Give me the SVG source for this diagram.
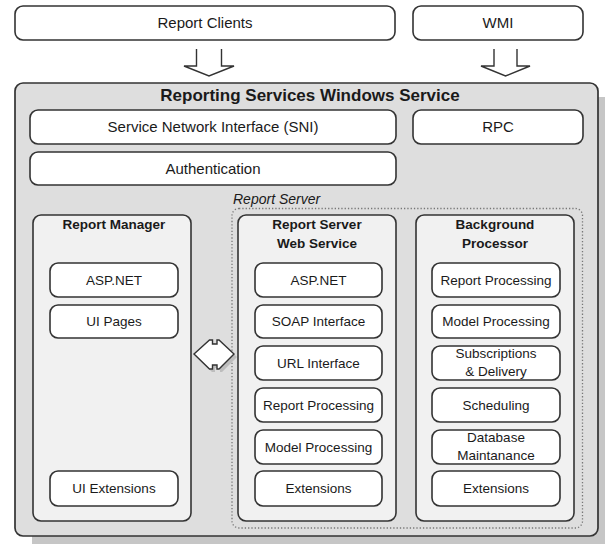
<svg xmlns="http://www.w3.org/2000/svg" width="605" height="544" viewBox="0 0 605 544">
<style>
  text { font-family: "Liberation Sans", Arial, sans-serif; fill: #1a1a1a; text-anchor: middle; }
  .t15 { font-size: 15px; }
  .t13 { font-size: 13.5px; }
  .b { font-weight: bold; }
  .box { fill: #ffffff; stroke: #333333; stroke-width: 1.6; }
  .panel { fill: #f1f1f1; stroke: #333333; stroke-width: 1.6; }
  .main { fill: #dedede; stroke: #333333; stroke-width: 1.7; }
  .shadow { fill: #c6c6c6; }
  .dotted { fill: none; stroke: #777777; stroke-width: 1.3; stroke-dasharray: 1.3 2; }
  .arrow { fill: #ffffff; stroke: #333333; stroke-width: 1.4; stroke-linejoin: miter; }
  .open { fill: none; stroke: #333333; stroke-width: 1.4; }
</style>

<g id="report-clients">
  <rect class="box" x="15" y="6" width="380" height="34" rx="8"/>
  <text class="t15" x="205" y="27.5">Report Clients</text>
</g>
<g id="wmi">
  <rect class="box" x="413" y="6" width="170" height="34" rx="8"/>
  <text class="t15" x="498" y="27.5">WMI</text>
</g>

<g id="rs-windows-service">
  <rect class="shadow" x="32" y="97" width="600" height="460" rx="8"/>
  <rect class="main" x="15" y="83" width="583" height="453" rx="8"/>
  <text class="b" style="font-size:17px" x="310" y="101">Reporting Services Windows Service</text>
</g>

<g id="sni">
  <rect class="box" x="30" y="110" width="366" height="34" rx="8"/>
  <text class="t15" x="213" y="132">Service Network Interface (SNI)</text>
</g>
<g id="rpc">
  <rect class="box" x="413" y="110" width="170" height="34" rx="8"/>
  <text class="t15" x="498" y="132">RPC</text>
</g>
<g id="authentication">
  <rect class="box" x="30" y="152" width="366" height="33" rx="8"/>
  <text class="t15" x="213" y="173.5">Authentication</text>
</g>

<g id="report-server">
  <rect class="dotted" x="232" y="208.5" width="350.5" height="319.5" rx="7"/>
  <text style="font-size:14px;font-style:italic;text-anchor:start" x="233" y="204">Report Server</text>
</g>

<g id="report-manager">
  <rect class="panel" x="33" y="215" width="158" height="306" rx="8"/>
  <text class="t13 b" x="114" y="229">Report Manager</text>
</g>
<g id="rm-aspnet"><rect class="box" x="50" y="263" width="128" height="34" rx="8"/><text class="t13" x="114" y="284.5">ASP.NET</text></g>
<g id="rm-uipages"><rect class="box" x="50" y="305" width="128" height="33" rx="8"/><text class="t13" x="114" y="326">UI Pages</text></g>
<g id="rm-uiext"><rect class="box" x="50" y="471" width="128" height="35" rx="8"/><text class="t13" x="114" y="493">UI Extensions</text></g>

<g id="rs-web-service">
  <rect class="panel" x="238" y="215" width="158" height="306" rx="8"/>
  <text class="t13 b" x="317" y="229">Report Server</text>
  <text class="t13 b" x="317" y="248">Web Service</text>
</g>
<g id="ws-aspnet"><rect class="box" x="255" y="263" width="127" height="34" rx="8"/><text class="t13" x="318.5" y="284.5">ASP.NET</text></g>
<g id="ws-soap"><rect class="box" x="255" y="305" width="127" height="33" rx="8"/><text class="t13" x="318.5" y="326">SOAP Interface</text></g>
<g id="ws-url"><rect class="box" x="255" y="346" width="127" height="34" rx="8"/><text class="t13" x="318.5" y="367.5">URL Interface</text></g>
<g id="ws-report-processing"><rect class="box" x="255" y="388" width="127" height="34" rx="8"/><text class="t13" x="318.5" y="409.5">Report Processing</text></g>
<g id="ws-model-processing"><rect class="box" x="255" y="430" width="127" height="34" rx="8"/><text class="t13" x="318.5" y="451.5">Model Processing</text></g>
<g id="ws-extensions"><rect class="box" x="255" y="471" width="127" height="35" rx="8"/><text class="t13" x="318.5" y="493">Extensions</text></g>

<g id="background-processor">
  <rect class="panel" x="416" y="215" width="158" height="306" rx="8"/>
  <text class="t13 b" x="495" y="229">Background</text>
  <text class="t13 b" x="495" y="248">Processor</text>
</g>
<g id="bp-report-processing"><rect class="box" x="432" y="263" width="128" height="34" rx="8"/><text class="t13" x="496" y="284.5">Report Processing</text></g>
<g id="bp-model-processing"><rect class="box" x="432" y="305" width="128" height="33" rx="8"/><text class="t13" x="496" y="326">Model Processing</text></g>
<g id="bp-subscriptions"><rect class="box" x="432" y="346" width="128" height="34" rx="8"/><text class="t13" x="496" y="358">Subscriptions</text><text class="t13" x="496" y="376">&amp; Delivery</text></g>
<g id="bp-scheduling"><rect class="box" x="432" y="388" width="128" height="34" rx="8"/><text class="t13" x="496" y="409.5">Scheduling</text></g>
<g id="bp-db-maintenance"><rect class="box" x="432" y="430" width="128" height="34" rx="8"/><text class="t13" x="496" y="442">Database</text><text class="t13" x="496" y="460">Maintanance</text></g>
<g id="bp-extensions"><rect class="box" x="432" y="471" width="128" height="35" rx="8"/><text class="t13" x="496" y="493">Extensions</text></g>

<g id="connectors">
  <path class="open" d="M196.5,49 V66 H184 L209,76 L234,66 H221.5 V49"/>
  <path class="open" d="M494,49 V66 H481 L505.5,76 L530,66 H517 V49"/>
  <path d="M197,357 L212,343 H215 V347 H220 V343 H222 L237,357 L222,372 H220 V368 H215 V372 H212 Z" fill="#bdbdbd"/>
  <path class="arrow" d="M194,354 L209.5,340 H212.5 V344 H217 V340 H219 L234,354 L219,369 H217 V365 H212.5 V369 H209.5 Z"/>
</g>
</svg>
